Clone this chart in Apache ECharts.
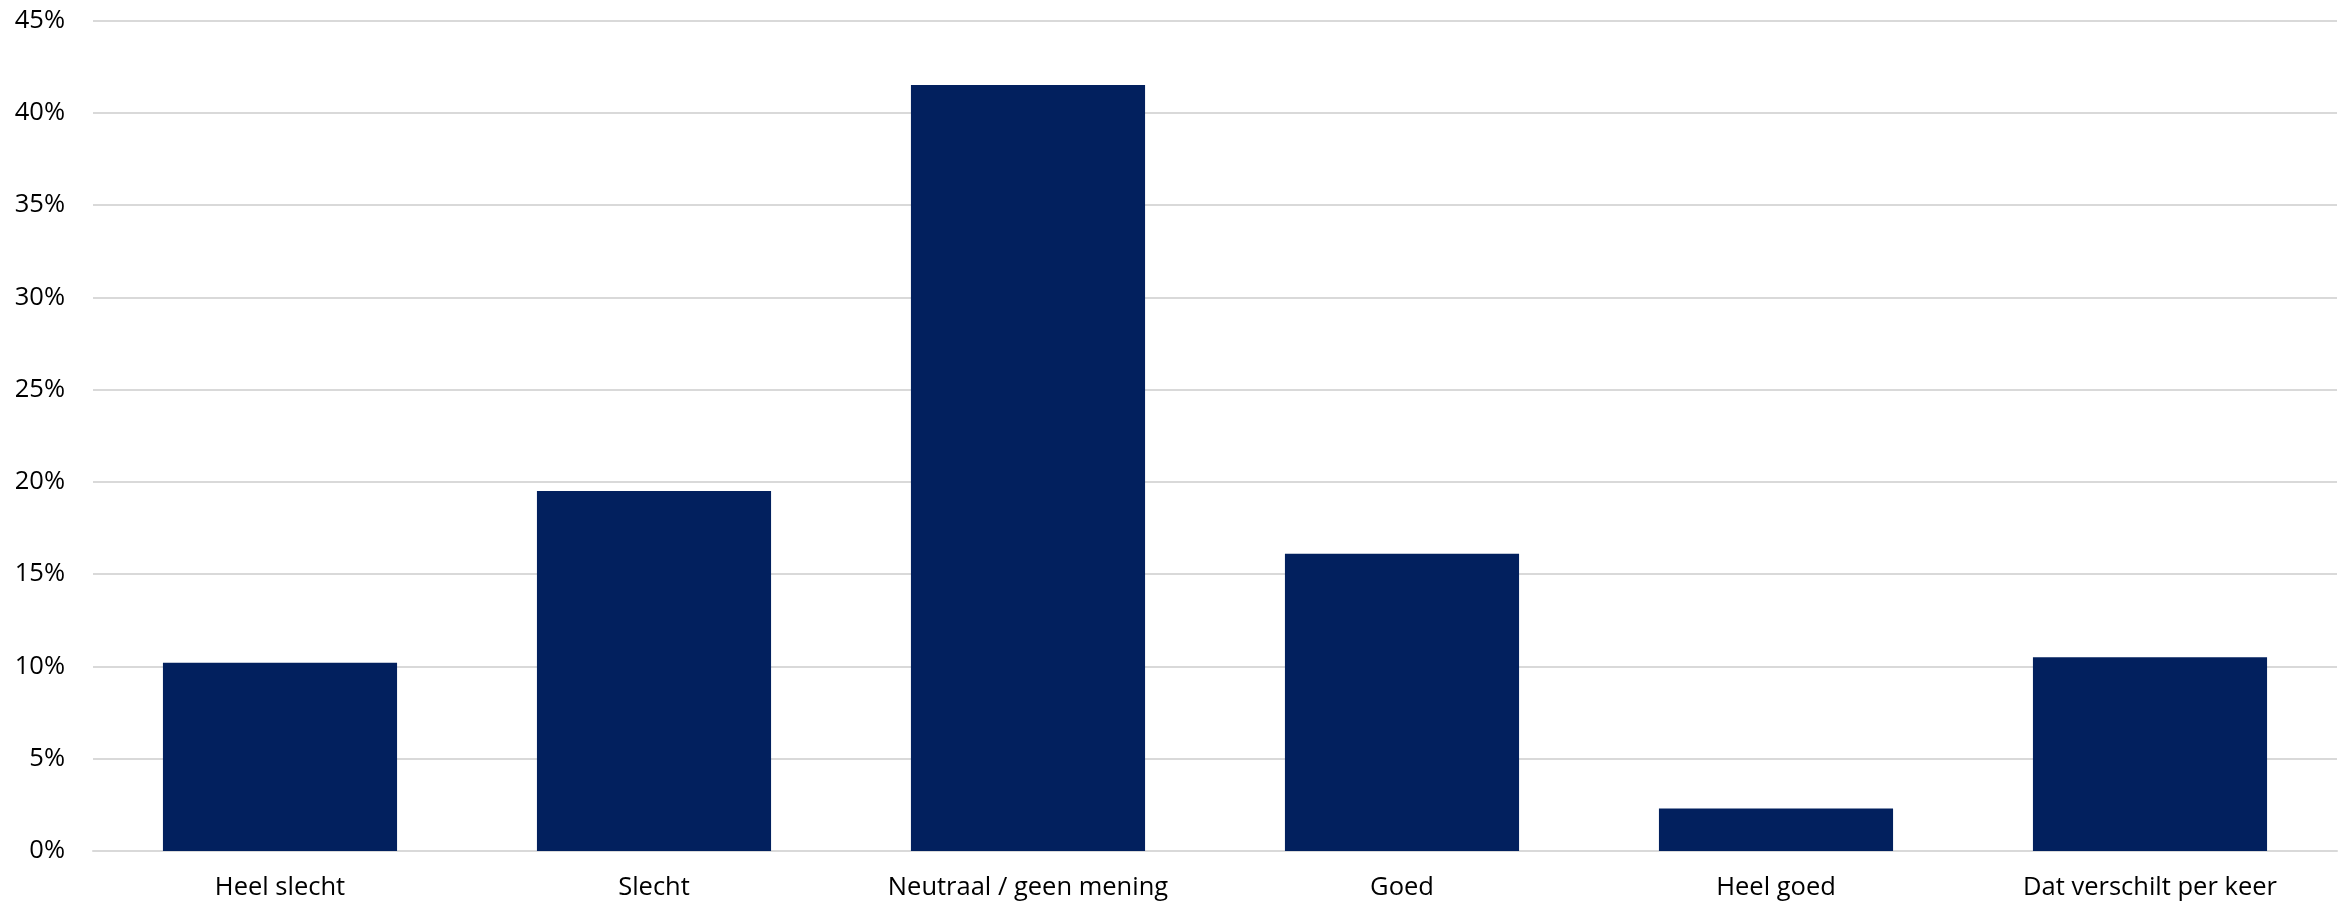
<!DOCTYPE html>
<html>
<head>
<meta charset="utf-8">
<script src="https://cdn.jsdelivr.net/npm/echarts@6/dist/echarts.min.js"></script>
<style>
html,body{margin:0;padding:0;background:#fff;}
#chart{width:2346px;height:904px;}
</style>
</head>
<body>
<div id="chart"></div>
<script>
const categories = ["Heel slecht", "Slecht", "Neutraal / geen mening", "Goed", "Heel goed", "Dat verschilt per keer"];
const values = [10.2, 19.5, 41.5, 16.1, 2.3, 10.5];
const yTicks = { min: 0, max: 45, interval: 5 };

const chart = echarts.init(document.getElementById('chart'), null, { renderer: 'canvas' });
chart.setOption({
  animation: false,
  backgroundColor: '#ffffff',
  textStyle: { fontFamily: 'Open Sans' },
  grid: { left: 93, right: 9, top: 20.5, bottom: 53, containLabel: false },
  xAxis: {
    type: 'category',
    data: categories,
    axisLine: { show: true, lineStyle: { color: '#d9d9d9', width: 2 } },
    axisTick: { show: false },
    axisLabel: { color: '#000', fontSize: 25.5, margin: 24, fontFamily: 'Open Sans' }
  },
  yAxis: {
    type: 'value',
    min: yTicks.min, max: yTicks.max, interval: yTicks.interval,
    axisLine: { show: false },
    axisTick: { show: false },
    splitLine: { lineStyle: { color: '#d9d9d9', width: 2 } },
    axisLabel: { color: '#000', fontSize: 25.5, margin: 28, formatter: v => v + '%', fontFamily: 'Open Sans' }
  },
  series: [{
    type: 'bar',
    data: values,
    barCategoryGap: '37.4%',
    itemStyle: { color: '#02205e' }
  }]
});
</script>
</body>
</html>
